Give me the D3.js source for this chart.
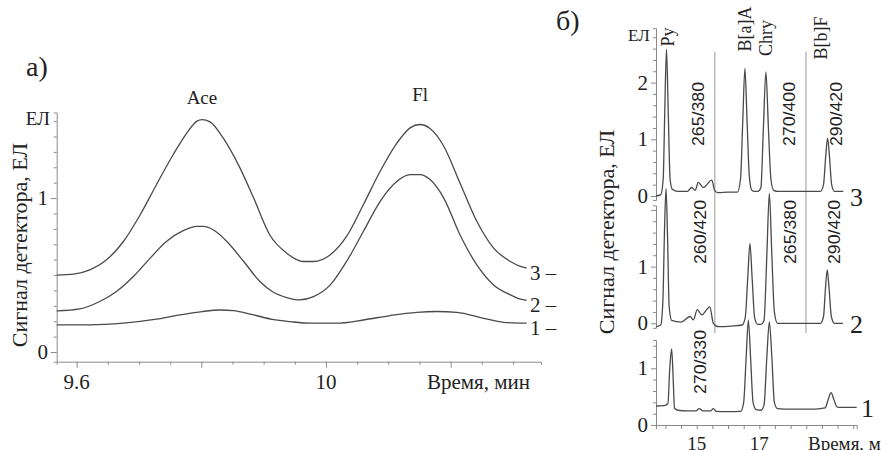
<!DOCTYPE html>
<html>
<head>
<meta charset="utf-8">
<script src="https://cdn.jsdelivr.net/npm/d3@7"></script>
</head>
<body style="margin:0">
<script>
// panel a) - Ace / Fl, three detector traces [time, signal]
const aTrace3 = [[9.568,0.50],[9.595,0.506],[9.621,0.534],[9.648,0.599],[9.675,0.718],[9.702,0.892],[9.728,1.087],[9.755,1.283],[9.777,1.424],[9.793,1.50],[9.801,1.51],[9.814,1.495],[9.835,1.391],[9.862,1.196],[9.884,1.0],[9.91,0.76],[9.937,0.642],[9.964,0.588],[9.98,0.588],[10.007,0.632],[10.033,0.751],[10.06,0.957],[10.087,1.174],[10.114,1.358],[10.135,1.456],[10.151,1.478],[10.167,1.452],[10.189,1.337],[10.215,1.098],[10.242,0.849],[10.269,0.675],[10.296,0.588],[10.312,0.556],[10.322,0.545]]
const aTrace2 = [[9.568,0.267],[9.605,0.28],[9.637,0.328],[9.664,0.393],[9.691,0.49],[9.718,0.61],[9.744,0.718],[9.771,0.788],[9.793,0.816],[9.803,0.816],[9.819,0.794],[9.841,0.718],[9.868,0.588],[9.894,0.458],[9.915,0.39],[9.937,0.354],[9.958,0.339],[9.98,0.36],[10.007,0.436],[10.033,0.588],[10.06,0.783],[10.087,0.979],[10.114,1.109],[10.135,1.152],[10.151,1.152],[10.167,1.12],[10.189,1.0],[10.215,0.762],[10.242,0.566],[10.269,0.436],[10.296,0.371],[10.312,0.343],[10.322,0.335]]
const aTrace1 = [[9.568,0.176],[9.621,0.176],[9.675,0.187],[9.728,0.213],[9.766,0.241],[9.801,0.263],[9.83,0.273],[9.851,0.269],[9.884,0.241],[9.914,0.212],[9.943,0.197],[9.975,0.187],[10.017,0.187],[10.06,0.208],[10.103,0.237],[10.146,0.258],[10.178,0.263],[10.21,0.258],[10.253,0.219],[10.285,0.193],[10.322,0.187]]
const aTraceNames = ['3 –', '2 –', '1 –']
const aPeaks = [['Ace', 9.801], ['Fl', 10.151]]
const aTickLabels = [9.6, 10]

// panel б) - PAH traces with wavelength programme
const bTrace3 = [[13.70,0.0],[13.85,0.02],[13.93,0.3],[13.98,1.5],[14.035,2.59],[14.09,1.5],[14.15,0.3],[14.22,0.12],[14.4,0.08],[14.7,0.08],[14.84,0.15],[14.95,0.1],[15.05,0.24],[15.21,0.15],[15.48,0.28],[15.58,0.09],[15.69,0.06],[16.0,0.07],[16.3,0.07],[16.4,0.3],[16.47,1.3],[16.54,2.25],[16.61,1.3],[16.68,0.35],[16.76,0.1],[16.85,0.08],[16.95,0.08],[17.05,0.15],[17.13,1.2],[17.21,2.19],[17.29,1.2],[17.37,0.3],[17.46,0.1],[17.6,0.08],[18.95,0.08],[19.05,0.2],[19.12,0.7],[19.18,1.02],[19.24,0.7],[19.31,0.2],[19.4,0.08],[19.68,0.08]]
const bTrace2 = [[13.70,-0.06],[13.85,-0.03],[13.92,0.4],[13.97,1.6],[14.02,2.38],[14.07,1.5],[14.12,0.3],[14.2,0.05],[14.5,0.02],[14.79,0.12],[14.89,0.06],[15.02,0.24],[15.16,0.15],[15.42,0.29],[15.53,0.0],[15.69,-0.06],[16.1,-0.05],[16.45,-0.03],[16.55,0.1],[16.63,0.8],[16.70,1.41],[16.77,0.8],[16.85,0.1],[16.95,-0.02],[17.05,-0.02],[17.15,0.05],[17.24,1.2],[17.32,2.29],[17.40,1.2],[17.48,0.2],[17.58,0.0],[18.95,0.0],[19.05,0.12],[19.11,0.6],[19.17,0.94],[19.23,0.6],[19.30,0.12],[19.40,0.0],[19.67,0.0]]
const bTrace1 = [[13.70,0.335],[13.95,0.34],[14.08,0.38],[14.14,1.0],[14.20,1.34],[14.25,0.8],[14.29,0.3],[14.4,0.26],[14.7,0.25],[14.98,0.25],[15.08,0.29],[15.2,0.25],[15.45,0.25],[15.53,0.29],[15.62,0.24],[16.0,0.235],[16.4,0.24],[16.5,0.4],[16.58,1.2],[16.65,1.85],[16.72,1.2],[16.8,0.4],[16.9,0.27],[17.05,0.26],[17.15,0.35],[17.24,1.2],[17.32,1.82],[17.4,1.2],[17.48,0.4],[17.58,0.29],[18.0,0.28],[18.8,0.28],[19.1,0.3],[19.2,0.45],[19.29,0.57],[19.38,0.45],[19.48,0.32],[19.6,0.31],[20.11,0.31]]
const bTraceNames = ['3', '2', '1']
const bPeaks = [['Py', 14.03], ['B[a]A', 16.54], ['Chry', 17.21], ['B[b]F', 19.0]]
const bSwitchTimes = [15.58, 18.49]
const bWaves3 = [['265/380', 15.05], ['270/400', 17.95], ['290/420', 19.48]]
const bWaves2 = [['260/420', 15.12], ['265/380', 18.0], ['290/420', 19.4]]
const bWaves1 = [['270/330', 15.12]]
const bTickLabels = [15, 17]

const SERIF = '"Liberation Serif", "Times New Roman", Tinos, serif'
const SANS = '"Liberation Sans", Arial, sans-serif'

const svg = d3.select('body').append('svg')
  .attr('width', 881)
  .attr('height', 450)
  .attr('font-family', SERIF)
  .style('display', 'block')

// small helper so every label carries its font directly
const label = (g, size, family = SERIF) => g.append('text')
  .attr('font-family', family).attr('font-size', size).attr('fill', '#222')

const lineCol = '#4a4a4a'
const axisCol = '#8a8a8a'

// ---------- panel a ----------
const xA = d3.scaleLinear().domain([9.568, 10.345]).range([56.7, 541])
const yA = d3.scaleLinear().domain([-0.063, 1.556]).range([361.7, 112.5])

const gA = svg.append('g')

const axA = gA.append('g').attr('transform', 'translate(56.7,0)')
  .call(d3.axisLeft(yA).tickValues(d3.range(0, 1.56, 0.1)).tickSizeOuter(0).tickSize(3).tickFormat(''))
axA.selectAll('line').attr('stroke', axisCol)
  .attr('x2', (d, i) => (i === 0 || i === 10) ? -6 : -3)
axA.select('.domain').attr('stroke', axisCol)

const axAx = gA.append('g').attr('transform', 'translate(0,361.7)')
  .call(d3.axisBottom(xA).tickValues(d3.range(9.6, 10.34, 0.05)).tickSizeOuter(0).tickSize(3).tickFormat(''))
axAx.selectAll('line').attr('stroke', axisCol)
  .attr('y2', (d, i) => i % 4 === 0 ? 6 : 3)
axAx.select('.domain').attr('stroke', axisCol)

;[0, 1].forEach(d => label(gA, 21).attr('x', 48).attr('y', yA(d) + 7).attr('text-anchor', 'end').text(d))
label(gA, 19).attr('x', 50).attr('y', 125).attr('text-anchor', 'end').text('ЕЛ')
aTickLabels.forEach(d => label(gA, 21).attr('x', xA(d)).attr('y', 389).attr('text-anchor', 'middle').text(d))
label(gA, 21).attr('x', 427).attr('y', 389).text('Время, мин')
label(gA, 22).attr('transform', 'translate(27,245) rotate(-90)').attr('text-anchor', 'middle').text('Сигнал детектора, ЕЛ')
label(gA, 28).attr('x', 26).attr('y', 76).text('а)')
aPeaks.forEach(d => label(gA, 19).attr('x', xA(d[1])).attr('y', d[0] === 'Ace' ? 104 : 101)
  .attr('text-anchor', 'middle').text(d[0]))

const lineA = d3.line().x(d => xA(d[0])).y(d => yA(d[1])).curve(d3.curveMonotoneX)
const aTraces = [aTrace3, aTrace2, aTrace1]
gA.selectAll('.tr').data(aTraces).enter().append('path')
  .attr('d', lineA).attr('fill', 'none').attr('stroke', lineCol).attr('stroke-width', 1.3)
aTraces.forEach((tr, i) => label(gA, 21).attr('x', 530).attr('y', yA(tr[tr.length - 1][1]) + 12).text(aTraceNames[i]))

// ---------- panel б ----------
const xB = d3.scaleLinear().domain([13.70, 20.11]).range([656, 856.7])
const pxPerUnit = 56.7
const bZeros = [196, 323.3, 425]
const bExtents = [[-0.07, 2.96], [-0.08, 2.08], [0, 1.5]]
const bTickMax = [2.8, 2.0, 1.4]
const bLabelMax = [2, 1, 1]
const bScales = bZeros.map((z, i) => d3.scaleLinear()
  .domain(bExtents[i]).range([z - bExtents[i][0] * pxPerUnit, z - bExtents[i][1] * pxPerUnit]))

const gB = svg.append('g')

// wavelength switch lines
gB.selectAll('.sw').data(bSwitchTimes).enter().append('line')
  .attr('x1', d => xB(d)).attr('x2', d => xB(d))
  .attr('y1', 51.7).attr('y2', 333)
  .attr('stroke', '#999').attr('stroke-width', 1)

bScales.forEach((s, i) => {
  const ax = gB.append('g').attr('transform', 'translate(656,0)')
    .call(d3.axisLeft(s).tickValues(d3.range(0, bTickMax[i] + 0.01, 0.2)).tickSizeOuter(0).tickSize(3).tickFormat(''))
  ax.selectAll('line').attr('stroke', axisCol).attr('x2', (d, j) => j % 5 === 0 ? -5 : -3)
  ax.select('.domain').attr('stroke', axisCol)
  d3.range(0, bLabelMax[i] + 1).forEach(d =>
    label(gB, 21).attr('x', 648).attr('y', s(d) + 7).attr('text-anchor', 'end').text(d))
})

const axBx = gB.append('g').attr('transform', 'translate(0,425)')
  .call(d3.axisBottom(xB).tickValues(d3.range(14, 20.01, 0.5)).tickSizeOuter(0).tickSize(4).tickFormat(''))
axBx.selectAll('line').attr('stroke', axisCol)
axBx.select('.domain').attr('stroke', axisCol)
bTickLabels.forEach(d => label(gB, 19).attr('x', xB(d)).attr('y', 450).attr('text-anchor', 'middle').text(d))
label(gB, 19).attr('x', 808).attr('y', 450).text('Время, мин')

label(gB, 17).attr('x', 628).attr('y', 41).text('ЕЛ')
label(gB, 28).attr('x', 556).attr('y', 30).text('б)')
label(gB, 22).attr('transform', 'translate(614,232) rotate(-90)').attr('text-anchor', 'middle').text('Сигнал детектора, ЕЛ')

const bPeakPos = { 'Py': [668, 37], 'B[a]A': [745, 29], 'Chry': [766, 38], 'B[b]F': [821, 38] }
bPeaks.forEach(d => label(gB, 18)
  .attr('transform', `translate(${bPeakPos[d[0]][0]},${bPeakPos[d[0]][1]}) rotate(-90)`)
  .attr('text-anchor', 'middle').attr('dominant-baseline', 'central').text(d[0]))

const waveRows = [[bWaves3, 114], [bWaves2, 232], [bWaves1, 362]]
waveRows.forEach(([rows, cy]) => {
  rows.forEach(d => label(gB, 16, SANS)
    .attr('transform', `translate(${xB(d[1])},${cy}) rotate(-90)`)
    .attr('text-anchor', 'middle').attr('dominant-baseline', 'central')
    .attr('textLength', 64).attr('lengthAdjust', 'spacingAndGlyphs')
    .text(d[0]))
})

const bTraces = [bTrace3, bTrace2, bTrace1]
bTraces.forEach((tr, i) => {
  const z = bZeros[i]
  const line = d3.line().x(d => xB(d[0])).y(d => z - d[1] * pxPerUnit).curve(d3.curveMonotoneX)
  gB.append('path').datum(tr).attr('d', line)
    .attr('fill', 'none').attr('stroke', lineCol).attr('stroke-width', 1.3)
})
bTraceNames.forEach((d, i) => label(gB, 26)
  .attr('x', i === 2 ? 861 : 850).attr('y', [206, 333, 417][i]).text(d))
</script>
</body>
</html>
